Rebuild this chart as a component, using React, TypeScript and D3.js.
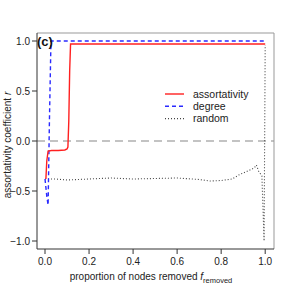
import React from "react";
import * as d3 from "d3";

const assortF = [0.004, 0.008, 0.014, 0.03, 0.06, 0.09, 0.1, 0.104, 0.108, 0.112, 0.116, 0.5, 1.0];
const assortR = [-0.38, -0.2, -0.1, -0.095, -0.095, -0.09, -0.08, -0.06, 0.2, 0.7, 0.97, 0.97, 0.97];

const degreeF = [0.0, 0.008, 0.014, 0.02, 0.027, 0.5, 1.0];
const degreeR = [-0.38, -0.55, -0.64, 0.2, 1.0, 1.0, 1.0];

const randomF = [0.0, 0.02, 0.05, 0.1, 0.15, 0.2, 0.3, 0.4, 0.5, 0.6, 0.7, 0.75, 0.8, 0.85, 0.88, 0.92, 0.95, 0.96, 0.97, 0.985, 0.995, 1.0];
const randomR = [-0.38, -0.38, -0.38, -0.39, -0.385, -0.38, -0.37, -0.38, -0.375, -0.37, -0.385, -0.4, -0.395, -0.38, -0.34, -0.3, -0.27, -0.24, -0.3, -0.35, -1.0, 0.96];

const xTicks = [0, 0.2, 0.4, 0.6, 0.8, 1.0];
const yTicks = [-1.0, -0.5, 0.0, 0.5, 1.0];

const legendLabels = ["assortativity", "degree", "random"];

export default function App() {
  const W = 291, H = 291;
  const left = 37, right = 274, top = 33, bottom = 249;
  const x = d3.scaleLinear().domain([-0.0364, 1.04]).range([left, right]);
  const y = d3.scaleLinear().domain([-1.08, 1.08]).range([bottom, top]);
  const line = d3.line<[number, number]>().x(d => x(d[0])).y(d => y(d[1]));
  const zip = (a: number[], b: number[]) => a.map((v, i) => [v, b[i]] as [number, number]);
  const font = "Liberation Sans, Arial, Helvetica, sans-serif";

  const styles = [
    { stroke: "#ff2020", dash: undefined as string | undefined, w: 1.4 },
    { stroke: "#2a2aff", dash: "4,3", w: 1.4 },
    { stroke: "#444", dash: "1,2", w: 1.1 },
  ];

  return (
    <svg width={W} height={H} style={{ position: "absolute", left: 0, top: 0 }} fontFamily={font}>
      <rect width={W} height={H} fill="white" />
      <line x1={left} x2={right} y1={y(0)} y2={y(0)} stroke="#888" strokeWidth={1.2} strokeDasharray="8,5" />
      <path d={line(zip(randomF, randomR)) || ""} fill="none" stroke={styles[2].stroke} strokeWidth={styles[2].w} strokeDasharray={styles[2].dash} />
      <path d={line(zip(degreeF, degreeR)) || ""} fill="none" stroke={styles[1].stroke} strokeWidth={styles[1].w} strokeDasharray={styles[1].dash} />
      <path d={line(zip(assortF, assortR)) || ""} fill="none" stroke={styles[0].stroke} strokeWidth={styles[0].w} />
      <line x1={left} x2={right} y1={top} y2={top} stroke="#999" strokeWidth={1} />
      <line x1={right} x2={right} y1={top} y2={bottom} stroke="#999" strokeWidth={1} />
      <line x1={left} x2={left} y1={top} y2={bottom} stroke="#333" strokeWidth={1} />
      <line x1={left} x2={right} y1={bottom} y2={bottom} stroke="#333" strokeWidth={1} />
      {yTicks.map(t => (
        <g key={"y" + t}>
          <line x1={left - 5} x2={left} y1={y(t)} y2={y(t)} stroke="#333" />
          <text x={left - 7} y={y(t)} dy="0.35em" textAnchor="end" fontSize={10} fill="#222">
            {t === 0 ? "0.0" : (t < 0 ? "\u2212" : "") + Math.abs(t).toFixed(1)}
          </text>
        </g>
      ))}
      {xTicks.map(t => (
        <g key={"x" + t}>
          <line x1={x(t)} x2={x(t)} y1={bottom} y2={bottom + 5} stroke="#333" />
          <text x={x(t)} y={bottom + 16} textAnchor="middle" fontSize={10} fill="#222">{t.toFixed(1)}</text>
        </g>
      ))}
      <text x={151} y={280} textAnchor="middle" fontSize={10} fill="#222">
        proportion of nodes removed <tspan fontStyle="italic">f</tspan>
        <tspan fontSize={7.5} dy={2.5}>removed</tspan>
      </text>
      <text transform={`translate(11,${y(-0.04)}) rotate(-90)`} textAnchor="middle" fontSize={10} fill="#222">
        assortativity coefficient <tspan fontStyle="italic">r</tspan>
      </text>
      <text x={37} y={46} fontSize={13} fontWeight="bold" fill="#111">(c)</text>
      {legendLabels.map((lab, i) => (
        <g key={lab}>
          <line x1={165} x2={184} y1={94 + i * 12.3} y2={94 + i * 12.3} stroke={styles[i].stroke} strokeWidth={styles[i].w} strokeDasharray={styles[i].dash} />
          <text x={193} y={94 + i * 12.3} dy="0.35em" fontSize={10.5} fill="#222">{lab}</text>
        </g>
      ))}
    </svg>
  );
}
